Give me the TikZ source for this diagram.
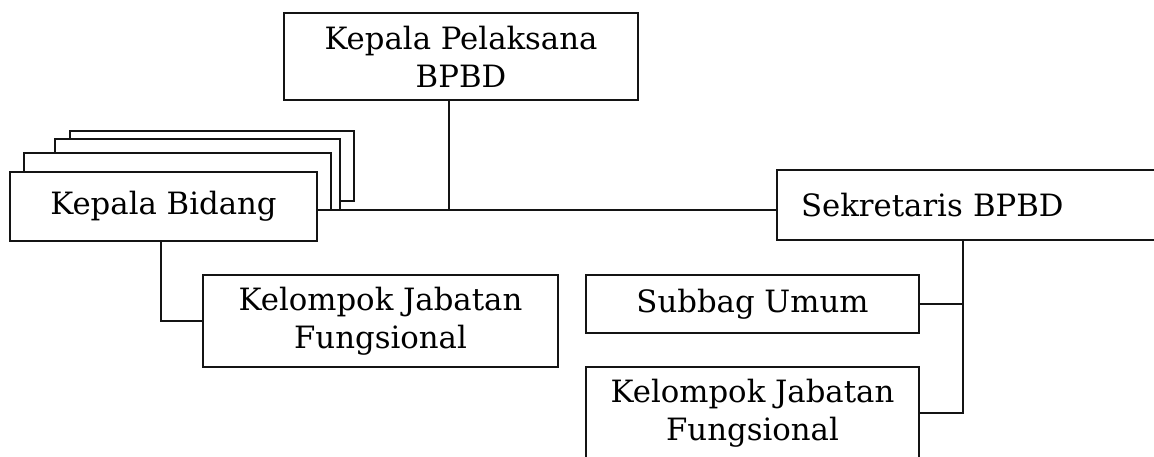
\documentclass[tikz,border=0pt]{standalone}
\usepackage{fontspec}
\setmainfont{DejaVu Serif}
\usetikzlibrary{calc}
\definecolor{ink}{HTML}{141414}

\begin{document}
\begin{tikzpicture}[x=.2mm,y=-.2mm,line cap=rect,line join=miter,
  box/.style={draw=ink,line width=1.2pt,fill=white,align=center,inner sep=0pt,font=\fontsize{17.5}{21.6}\selectfont},
  wire/.style={draw=ink,line width=1.2pt}]
\useasboundingbox (0,0) rectangle (1154,457);
% stacked boxes behind Kepala Bidang
\foreach \l/\t/\r/\b in {70/131/354/201,55/139/340/210,24/153/331/210}{\filldraw[fill=white,draw=ink,line width=1.2pt] (\l,\t) rectangle (\r,\b);}
\node[box,minimum width=7.08cm,minimum height=1.74cm] (pelaksana) at (461,56.5) {Kepala Pelaksana\\BPBD};
\node[box,minimum width=6.14cm,minimum height=1.38cm] (bidang) at (163.5,206.5) {Kepala Bidang};
\node[box,minimum height=1.4cm,text width=6.9cm,align=left,inner xsep=.48cm] (sek) at (973.5,205) {Sekretaris BPBD};
\node[box,minimum width=7.1cm,minimum height=1.84cm] (kelA) at (380.5,321) {Kelompok Jabatan\\Fungsional};
\node[box,minimum width=6.66cm,minimum height=1.16cm] (subbag) at (752.5,304) {Subbag Umum};
\node[box,minimum width=6.66cm,minimum height=1.84cm] (kelB) at (752.5,413) {Kelompok Jabatan\\Fungsional};
% connectors
\coordinate (j) at (449,210);
\coordinate (k) at (161,0);
\coordinate (bus) at (963,0);
\draw[wire] (pelaksana.south -| j) -- (j);
\draw[wire] (j -| bidang.east) -- (j -| sek.west);
\draw[wire] (bidang.south -| k) |- (kelA.west);
\draw[wire] (sek.south -| bus) |- (kelB.east);
\draw[wire] (subbag.east) -- (subbag.east -| bus);
\end{tikzpicture}
\end{document}
